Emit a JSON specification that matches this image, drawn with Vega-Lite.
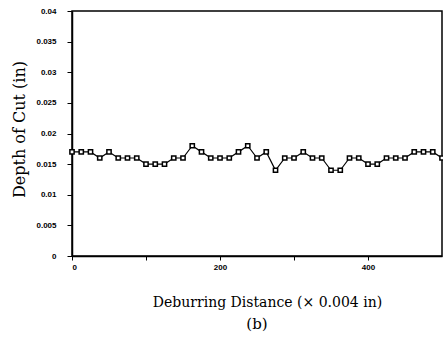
{
  "$schema": "https://vega.github.io/schema/vega-lite/v6.json",
  "width": 370,
  "height": 245,
  "autosize": {"type": "none"},
  "padding": {"left": 72, "top": 11, "right": 1, "bottom": 91},
  "background": "white",
  "title": {
    "text": "(b)",
    "orient": "bottom",
    "anchor": "middle",
    "font": "DejaVu Serif",
    "fontSize": 15,
    "fontWeight": "normal",
    "color": "black",
    "offset": 8
  },
  "config": {
    "view": {"stroke": "black", "strokeWidth": 1.5},
    "axis": {
      "grid": false,
      "domainColor": "black",
      "domainWidth": 1.5,
      "tickColor": "black",
      "tickWidth": 1,
      "tickSize": 4,
      "labelFont": "Liberation Sans",
      "labelFontWeight": "bold",
      "labelFontSize": 8,
      "labelColor": "black",
      "titleFont": "DejaVu Serif",
      "titleFontWeight": "normal",
      "titleFontSize": 14,
      "titleColor": "black"
    }
  },
  "data": {
    "values": [
      {"x": 0, "depth": 0.017},
      {"x": 12.5, "depth": 0.017},
      {"x": 25, "depth": 0.017},
      {"x": 37.5, "depth": 0.016},
      {"x": 50, "depth": 0.017},
      {"x": 62.5, "depth": 0.016},
      {"x": 75, "depth": 0.016},
      {"x": 87.5, "depth": 0.016},
      {"x": 100, "depth": 0.015},
      {"x": 112.5, "depth": 0.015},
      {"x": 125, "depth": 0.015},
      {"x": 137.5, "depth": 0.016},
      {"x": 150, "depth": 0.016},
      {"x": 162.5, "depth": 0.018},
      {"x": 175, "depth": 0.017},
      {"x": 187.5, "depth": 0.016},
      {"x": 200, "depth": 0.016},
      {"x": 212.5, "depth": 0.016},
      {"x": 225, "depth": 0.017},
      {"x": 237.5, "depth": 0.018},
      {"x": 250, "depth": 0.016},
      {"x": 262.5, "depth": 0.017},
      {"x": 275, "depth": 0.014},
      {"x": 287.5, "depth": 0.016},
      {"x": 300, "depth": 0.016},
      {"x": 312.5, "depth": 0.017},
      {"x": 325, "depth": 0.016},
      {"x": 337.5, "depth": 0.016},
      {"x": 350, "depth": 0.014},
      {"x": 362.5, "depth": 0.014},
      {"x": 375, "depth": 0.016},
      {"x": 387.5, "depth": 0.016},
      {"x": 400, "depth": 0.015},
      {"x": 412.5, "depth": 0.015},
      {"x": 425, "depth": 0.016},
      {"x": 437.5, "depth": 0.016},
      {"x": 450, "depth": 0.016},
      {"x": 462.5, "depth": 0.017},
      {"x": 475, "depth": 0.017},
      {"x": 487.5, "depth": 0.017},
      {"x": 500, "depth": 0.016}
    ]
  },
  "encoding": {
    "x": {
      "field": "x",
      "type": "quantitative",
      "scale": {"domain": [0, 500], "nice": false, "zero": false},
      "axis": {
        "title": "Deburring Distance (× 0.004 in)",
        "values": [0, 100, 200, 300, 400],
        "labelExpr": "datum.value % 200 === 0 ? datum.label : ''",
        "labelPadding": 3,
        "titleX": 195,
        "titleY": 46,
        "titleBaseline": "middle",
        "titleAlign": "center"
      }
    },
    "y": {
      "field": "depth",
      "type": "quantitative",
      "scale": {"domain": [0, 0.04], "nice": false},
      "axis": {
        "title": "Depth of Cut (in)",
        "values": [0, 0.005, 0.01, 0.015, 0.02, 0.025, 0.03, 0.035, 0.04],
        "format": "~g",
        "labelPadding": 11,
        "tickSize": 5,
        "titleFontSize": 16,
        "titleX": -53,
        "titleY": 118,
        "titleBaseline": "middle",
        "titleAlign": "center",
        "titleAngle": -90
      }
    }
  },
  "layer": [
    {"mark": {"type": "line", "color": "black", "strokeWidth": 1.2}},
    {"mark": {"type": "point", "shape": "square", "size": 18, "filled": true, "fill": "white", "stroke": "black", "strokeWidth": 1.5, "opacity": 1}}
  ]
}
